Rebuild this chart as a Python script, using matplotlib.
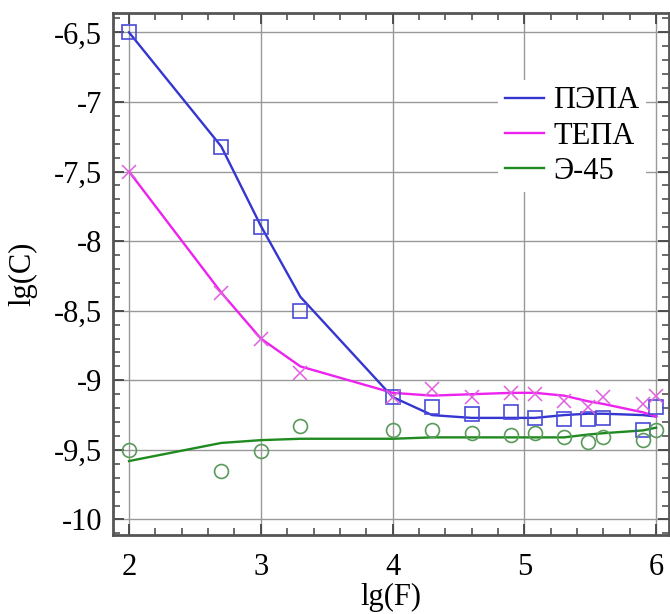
import numpy as np
import matplotlib.pyplot as plt
from matplotlib.ticker import MultipleLocator, FuncFormatter

# lg(F) values of the measured points
xpts = [2, 2.7, 3, 3.3, 4, 4.3, 4.6, 4.9, 5.08, 5.3, 5.48, 5.6, 5.9, 6]

# measured lg(C)
pepa_pts = [-6.5, -7.32, -7.9, -8.5, -9.12, -9.19, -9.24, -9.23, -9.27, -9.28, -9.28, -9.27, -9.36, -9.19]
tepa_pts = [-7.5, -8.37, -8.7, -8.95, -9.12, -9.06, -9.12, -9.09, -9.1, -9.15, -9.19, -9.12, -9.17, -9.11]
e45_pts  = [-9.5, -9.65, -9.51, -9.33, -9.36, -9.36, -9.38, -9.39, -9.38, -9.41, -9.44, -9.41, -9.43, -9.36]

# fitted curves, read at the same lg(F)
pepa_fit = [-6.5, -7.32, -7.89, -8.4, -9.12, -9.25, -9.27, -9.27, -9.27, -9.25, -9.24, -9.24, -9.25, -9.26]
tepa_fit = [-7.5, -8.37, -8.7, -8.9, -9.09, -9.11, -9.1, -9.09, -9.09, -9.11, -9.15, -9.17, -9.23, -9.26]
e45_fit  = [-9.58, -9.45, -9.43, -9.42, -9.42, -9.41, -9.41, -9.41, -9.41, -9.41, -9.39, -9.38, -9.36, -9.34]

labels = ['ПЭПА', 'ТЕПА', 'Э-45']
cline  = ['#3535d0', '#ee22ee', '#1f8a1f']
cmark  = ['#4a4ad8', '#e060e0', '#5a9a5a']

plt.rcParams['font.family'] = ['Liberation Serif', 'DejaVu Serif']
plt.rcParams['font.size'] = 22

fig = plt.figure(figsize=(6.7, 6.14), dpi=100)
ax = fig.add_axes([0.169, 0.129, 0.830, 0.850])

fits = [pepa_fit, tepa_fit, e45_fit]
pts  = [pepa_pts, tepa_pts, e45_pts]
marks = ['s', 'x', 'o']
for i in range(3):
    ax.plot(xpts, fits[i], color=cline[i], lw=1.7, label=labels[i], zorder=3)
    if marks[i] == 'x':
        ax.plot(xpts, pts[i], ls='none', marker='x', ms=10, mew=1.1,
                color=cmark[i], zorder=4)
    else:
        ax.plot(xpts, pts[i], ls='none', marker=marks[i], ms=10, mew=1.2,
                mfc='none', mec=cmark[i], zorder=4)

ax.set_xlim(1.88, 6.1)
ax.set_ylim(-10.11, -6.36)
ax.xaxis.set_major_locator(MultipleLocator(1))
ax.xaxis.set_minor_locator(MultipleLocator(0.2))
ax.yaxis.set_major_locator(MultipleLocator(0.5))
ax.yaxis.set_minor_locator(MultipleLocator(0.1))
ax.yaxis.set_major_formatter(FuncFormatter(lambda v, p: ('%g' % v).replace('.', ',')))
ax.tick_params(which='both', direction='in', top=True, right=True, color='#444444')
ax.tick_params(which='major', length=8, width=1.3, pad=8)
ax.tick_params(which='minor', length=5, width=1.1)
ax.tick_params(axis='x', which='major', pad=13)
ax.grid(True, which='major', color='#999999', lw=1.0)
for s in ax.spines.values():
    s.set_color('#555555')
    s.set_linewidth(2)

ax.set_xlabel('lg(F)', labelpad=1)
ax.set_ylabel('lg(C)', labelpad=12)

leg = ax.legend(loc='upper right', bbox_to_anchor=(0.985, 0.9), frameon=True,
                fancybox=False, handlelength=1.3, handletextpad=0.3,
                labelspacing=0.2, borderpad=0.2, fontsize=22)
leg.get_frame().set_edgecolor('none')
leg.get_frame().set_facecolor('white')
leg.get_frame().set_alpha(1)

fig.savefig('out.png', dpi=100)
